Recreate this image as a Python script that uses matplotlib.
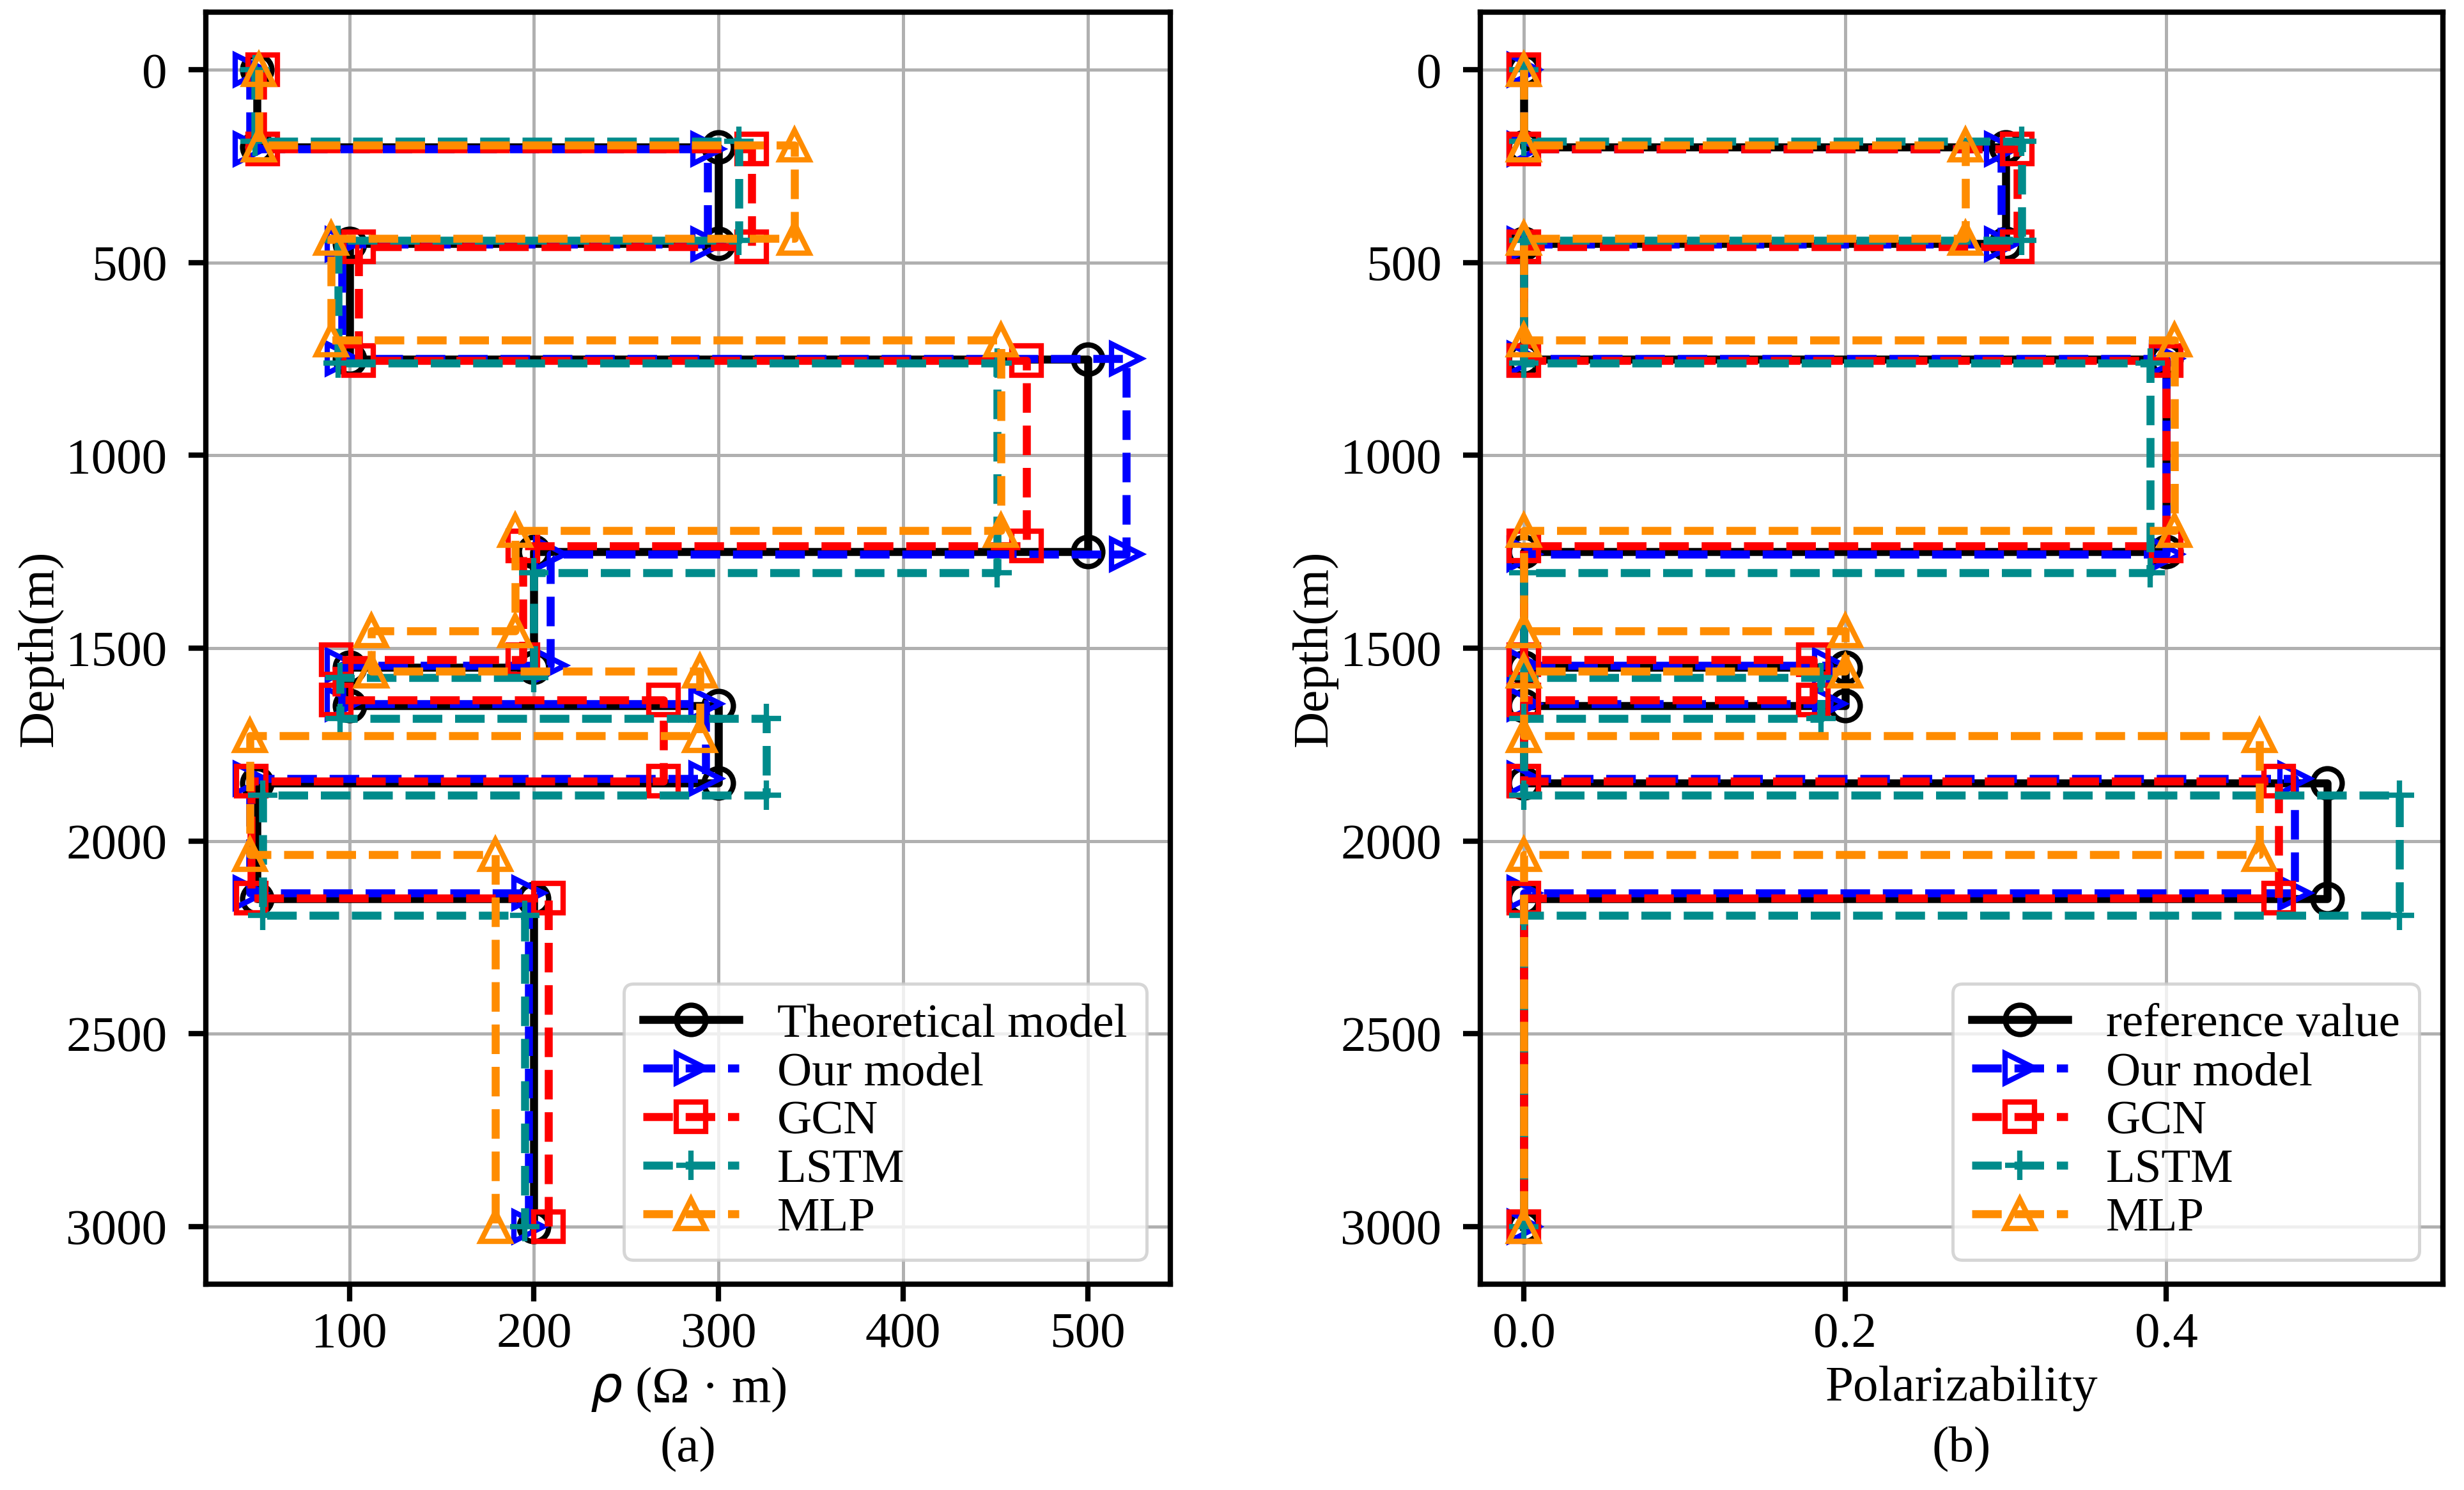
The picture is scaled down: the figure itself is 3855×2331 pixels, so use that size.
import matplotlib
matplotlib.use("Agg")
import matplotlib.pyplot as plt

plt.rcParams['font.family'] = ['Liberation Serif', 'DejaVu Sans']
plt.rcParams['mathtext.fontset'] = 'dejavusans'

# ---------------- data ----------------
bottom_depth = 3000
labels_a = ["Theoretical model", "Our model", "GCN", "LSTM", "MLP"]
labels_b = ["reference value", "Our model", "GCN", "LSTM", "MLP"]

# interface depths (m) of each profile
bounds_theory = [200, 450, 750, 1250, 1550, 1650, 1850, 2150]
bounds_ours = [205, 452, 748, 1256, 1545, 1645, 1838, 2135]
bounds_gcn = [205, 458, 754, 1235, 1530, 1635, 1845, 2148]
bounds_lstm = [185, 442, 760, 1305, 1577, 1682, 1881, 2193]
bounds_mlp = [195, 437, 700, 1195, 1455, 1560, 1728, 2036]

# resistivity (Ohm m) of each layer
rho_theory = [50, 300, 100, 500, 200, 100, 300, 50, 200]
rho_ours = [46, 294, 96, 521, 209, 96, 293, 46, 197]
rho_gcn = [53, 318, 105, 467, 194, 93, 270, 47, 208]
rho_lstm = [49, 311, 94, 451, 200, 95, 326, 53, 195]
rho_mlp = [51, 341, 90, 453, 190, 112, 290, 46, 179]

# polarizability of each layer
eta_theory = [0, 0.30, 0, 0.40, 0, 0.20, 0, 0.50, 0]
eta_ours = [0, 0.297, 0, 0.400, 0, 0.190, 0, 0.480, 0]
eta_gcn = [0, 0.307, 0, 0.400, 0, 0.180, 0, 0.470, 0]
eta_lstm = [0, 0.310, 0, 0.390, 0, 0.185, 0, 0.545, 0]
eta_mlp = [0, 0.275, 0, 0.405, 0, 0.200, 0, 0.458, 0]

xticks_a = [100, 200, 300, 400, 500]
xticks_b = [0.0, 0.2, 0.4]
yticks = [0, 500, 1000, 1500, 2000, 2500, 3000]


def step_profile(values, bounds, bottom):
    depths = [0] + list(bounds) + [bottom]
    xs, ys = [], []
    for i, v in enumerate(values):
        xs += [v, v]
        ys += [depths[i], depths[i + 1]]
    return xs, ys


styles = [
    dict(color='black', linestyle='-', marker='o'),
    dict(color='blue', linestyle='--', marker='>'),
    dict(color='red', linestyle='--', marker='s'),
    dict(color='#008B8B', linestyle='--', marker='+'),
    dict(color='#FF8C00', linestyle='--', marker='^'),
]

bounds_all = [bounds_theory, bounds_ours, bounds_gcn, bounds_lstm, bounds_mlp]
rho_all = [rho_theory, rho_ours, rho_gcn, rho_lstm, rho_mlp]
eta_all = [eta_theory, eta_ours, eta_gcn, eta_lstm, eta_mlp]

fig = plt.figure(figsize=(12.85, 7.77), dpi=300)
ax1 = fig.add_axes([0.08353, 0.13814, 0.39144, 0.85371])
ax2 = fig.add_axes([0.60078, 0.13814, 0.39066, 0.85371])

TICK_FS = 19
LEG_FS = 18

for ax, vals_all, labels, xlabel, sub, xt in [
        (ax1, rho_all, labels_a, r'$\rho$ (Ω · m)', '(a)', xticks_a),
        (ax2, eta_all, labels_b, 'Polarizability', '(b)', xticks_b)]:
    for vals, bnds, lab, st in zip(vals_all, bounds_all, labels, styles):
        xs, ys = step_profile(vals, bnds, bottom_depth)
        ax.plot(xs, ys, label=lab, linewidth=3, markersize=11,
                markeredgewidth=2, markerfacecolor='none', **st)
    ax.invert_yaxis()
    ax.set_xticks(xt)
    ax.set_yticks(yticks)
    if ax is ax2:
        ax.set_xticklabels([f"{v:.1f}" for v in xt])
    ax.grid(True, color='#b0b0b0', linewidth=1.2)
    ax.set_axisbelow(True)
    for sp in ax.spines.values():
        sp.set_linewidth(2)
    ax.tick_params(axis='both', labelsize=TICK_FS, length=6.5, width=2)
    ax.tick_params(axis='y', pad=8)
    ax.tick_params(axis='x', pad=4)
    ax.set_ylabel('Depth(m)', fontsize=TICK_FS)
    ax.yaxis.set_label_coords(-0.148, 0.5)
    ax.set_xlabel(xlabel, fontsize=TICK_FS)
    ax.xaxis.set_label_coords(0.5, -0.064)
    ax.text(0.5, -0.112, sub, transform=ax.transAxes, ha='center', va='top',
            fontsize=TICK_FS)
    leg = ax.legend(loc='lower right', fontsize=LEG_FS, labelspacing=0.1,
                    handlelength=2.0, handletextpad=0.8, borderpad=0.4,
                    framealpha=0.8, edgecolor='0.8')
    leg.get_frame().set_linewidth(1.2)

fig.savefig('out.png', dpi=300)
